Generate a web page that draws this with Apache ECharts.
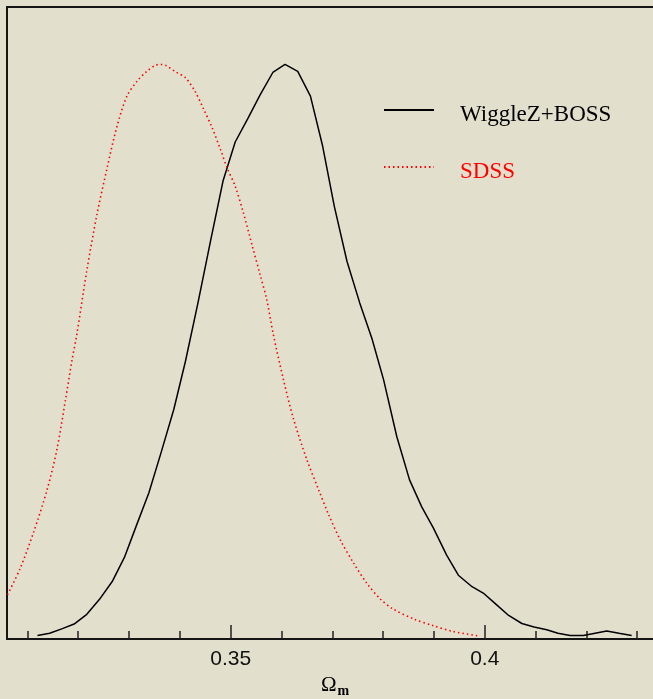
<!DOCTYPE html>
<html>
<head>
<meta charset="utf-8">
<title>Omega_m posterior</title>
<script src="https://cdn.jsdelivr.net/npm/echarts@6/dist/echarts.min.js"></script>
<style>
  html, body { margin: 0; padding: 0; background: #E2DFCC; }
  #chart { width: 653px; height: 699px; }
</style>
</head>
<body>
<div id="chart"></div>
<script>
// WiggleZ+BOSS marginalised likelihood of Omega_m
const wzOmega = [0.3120, 0.3144, 0.3169, 0.3192, 0.3217, 0.3242, 0.3267, 0.3291, 0.3314, 0.3339,
  0.3363, 0.3388, 0.3411, 0.3435, 0.3461, 0.3485, 0.3509, 0.3534, 0.3558, 0.3583,
  0.3607, 0.3632, 0.3657, 0.3681, 0.3704, 0.3729, 0.3754, 0.3778, 0.3801, 0.3827,
  0.3852, 0.3876, 0.3899, 0.3925, 0.3948, 0.3975, 0.3997, 0.4024, 0.4047, 0.4073,
  0.4097, 0.4122, 0.4144, 0.4168, 0.4194, 0.4217, 0.4240, 0.4264, 0.4289];
const wzLike = [0.006, 0.010, 0.018, 0.026, 0.043, 0.069, 0.100, 0.142, 0.196, 0.254,
  0.324, 0.399, 0.483, 0.582, 0.695, 0.797, 0.865, 0.906, 0.947, 0.986,
  1.000, 0.988, 0.945, 0.858, 0.753, 0.657, 0.585, 0.523, 0.451, 0.352,
  0.277, 0.230, 0.193, 0.146, 0.111, 0.091, 0.080, 0.059, 0.041, 0.027,
  0.021, 0.016, 0.010, 0.006, 0.006, 0.010, 0.014, 0.010, 0.006];

// SDSS marginalised likelihood of Omega_m
const sdssOmega = [0.3061, 0.3086, 0.3112, 0.3139, 0.3158, 0.3175, 0.3188, 0.3197, 0.3217, 0.3237,
  0.3257, 0.3276, 0.3296, 0.3316, 0.3335, 0.3353, 0.3363, 0.3373, 0.3392, 0.3411,
  0.3430, 0.3447, 0.3463, 0.3480, 0.3493, 0.3509, 0.3525, 0.3542, 0.3558, 0.3571,
  0.3584, 0.3604, 0.3624, 0.3650, 0.3673, 0.3693, 0.3716, 0.3742, 0.3768, 0.3794,
  0.3820, 0.3860, 0.3899, 0.3938, 0.3991];
const sdssLike = [0.077, 0.123, 0.185, 0.260, 0.329, 0.416, 0.486, 0.528, 0.641, 0.739,
  0.820, 0.891, 0.945, 0.971, 0.988, 0.999, 1.000, 0.998, 0.987, 0.977,
  0.953, 0.922, 0.891, 0.852, 0.820, 0.788, 0.742, 0.686, 0.634, 0.591,
  0.530, 0.451, 0.382, 0.312, 0.260, 0.216, 0.172, 0.132, 0.097, 0.070,
  0.052, 0.035, 0.023, 0.013, 0.005];

// Axis ticks
const minorTicks = [0.31, 0.32, 0.33, 0.34, 0.35, 0.36, 0.37, 0.38, 0.39, 0.40, 0.41, 0.42, 0.43];
const majorTicks = [0.35, 0.40];
const tickLabels = ['0.35', '0.4'];

const seriesNames = ['WiggleZ+BOSS', 'SDSS'];

// The frame runs on past the right edge, so the visible range stops mid-axis
const X_MIN = 0.306, X_MAX = 0.4331;

const chart = echarts.init(document.getElementById('chart'), null, { renderer: 'canvas' });

const zip = (xs, ys) => xs.map((x, i) => [x, ys[i]]);
const AXIS_COLOR = '#151515';
const legendFont = { fontFamily: 'Liberation Serif', fontSize: 23, padding: [9, 0, 0, 21] };

chart.setOption({
  backgroundColor: '#E2DFCC',
  animation: false,
  grid: { left: 7, top: 7, right: 0, bottom: 60, show: false },
  legend: {
    orient: 'vertical',
    left: 383, top: 103, padding: 0,
    itemWidth: 50, itemHeight: 14, itemGap: 34,
    itemStyle: { opacity: 0 },
    formatter: name => (name === seriesNames[1] ? '{r|' : '{k|') + name + '}',
    textStyle: {
      rich: {
        k: Object.assign({ color: '#000000' }, legendFont),
        r: Object.assign({ color: '#ff0000' }, legendFont)
      }
    },
    data: seriesNames
  },
  xAxis: [
    {
      type: 'value', min: X_MIN, max: X_MAX, position: 'bottom',
      axisLine: { show: true, lineStyle: { color: AXIS_COLOR, width: 2 } },
      axisTick: { show: true, inside: true, length: 8, customValues: minorTicks,
        lineStyle: { color: '#222', width: 1.5 } },
      axisLabel: { show: false },
      splitLine: { show: false }
    },
    {
      type: 'value', min: X_MIN, max: X_MAX, position: 'bottom',
      axisLine: { show: false },
      axisTick: { show: true, inside: true, length: 14, customValues: majorTicks,
        lineStyle: { color: '#222', width: 1.5 } },
      axisLabel: {
        show: true, customValues: majorTicks, margin: 10,
        fontFamily: 'Liberation Sans', fontSize: 21, color: '#111',
        formatter: v => tickLabels[majorTicks.indexOf(v)] ?? String(v)
      },
      splitLine: { show: false }
    },
    {
      // top edge of the frame
      type: 'value', min: X_MIN, max: X_MAX, position: 'top',
      axisLine: { show: true, lineStyle: { color: AXIS_COLOR, width: 2 } },
      axisTick: { show: false },
      axisLabel: { show: false },
      splitLine: { show: false }
    }
  ],
  yAxis: {
    type: 'value', min: 0, max: 1.1,
    axisLine: { show: true, lineStyle: { color: AXIS_COLOR, width: 2 } },
    axisTick: { show: false },
    axisLabel: { show: false },
    splitLine: { show: false }
  },
  graphic: [{
    type: 'text', left: 321, top: 675,
    style: {
      text: '{o|Ω}{m|m}',
      rich: {
        o: { fontFamily: 'Liberation Serif', fontSize: 21, fill: '#000' },
        m: { fontFamily: 'Liberation Serif', fontSize: 14, fontWeight: 'bold', fill: '#000', padding: [12, 0, 0, 1] }
      }
    }
  }],
  series: [
    {
      name: seriesNames[0], type: 'line', xAxisIndex: 0,
      data: zip(wzOmega, wzLike),
      symbol: 'none', showSymbol: false,
      lineStyle: { color: '#000000', width: 1.5 },
      itemStyle: { color: '#000000' }
    },
    {
      name: seriesNames[1], type: 'line', xAxisIndex: 0,
      data: zip(sdssOmega, sdssLike),
      symbol: 'none', showSymbol: false, smooth: 0.3,
      lineStyle: { color: '#ff0000', width: 1.6, type: [1.5, 3] },
      itemStyle: { color: '#ff0000' }
    }
  ]
});
</script>
</body>
</html>
